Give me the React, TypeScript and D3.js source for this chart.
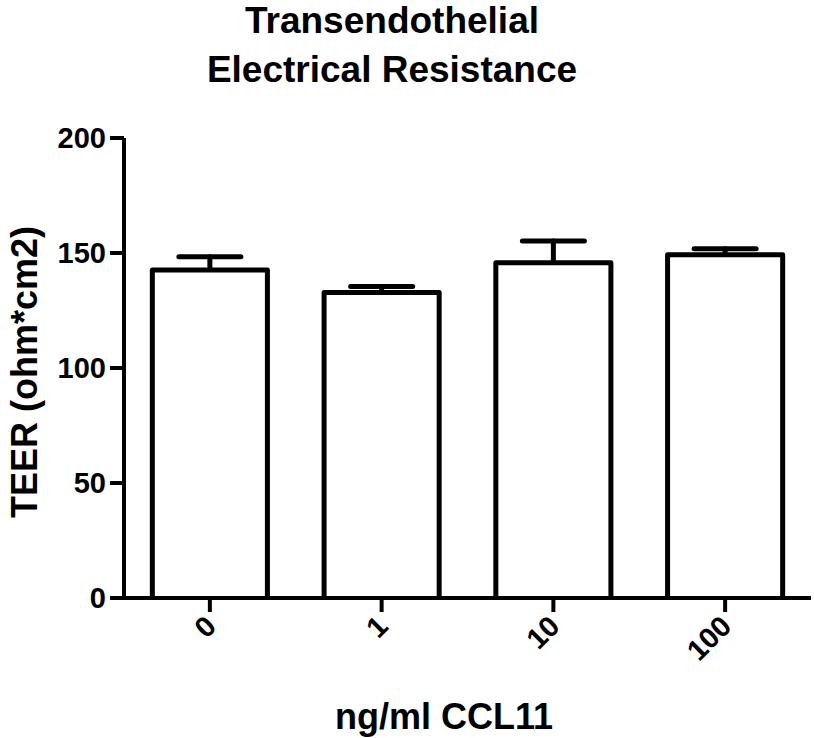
import React from 'react'
import { scaleBand, scaleLinear } from 'd3'

const categories = ['0', '1', '10', '100']
const means = [142.6, 132.8, 145.8, 149.2]
const errors = [5.8, 2.6, 9.4, 2.6]
const yTicks = [0, 50, 100, 150, 200]

const font = '"Liberation Sans", Arial, sans-serif'

function App() {
  const width = 814
  const height = 738
  const left = 124
  const bottom = 598
  const top = 138

  const x = scaleBand()
    .domain(categories)
    .range([left, 811])
    .paddingInner(0.33)
    .paddingOuter(0.165)

  const y = scaleLinear().domain([0, 200]).range([bottom, top])

  const capHalf = 31

  return (
    <svg
      width={width}
      height={height}
      style={{ position: 'absolute', left: 0, top: 0, background: '#fff' }}
      fontFamily={font}
      fontWeight="bold"
    >
      <text x={392} y={33} fontSize={37} textAnchor="middle">
        Transendothelial
      </text>
      <text x={392} y={82} fontSize={37} textAnchor="middle">
        Electrical Resistance
      </text>

      {/* bars + upper error bars */}
      {categories.map((c, i) => {
        const bx = x(c) as number
        const cx = bx + x.bandwidth() / 2
        return (
          <g key={c} stroke="#000" strokeWidth={5} fill="#fff">
            <line
              x1={cx}
              x2={cx}
              y1={y(means[i])}
              y2={y(means[i] + errors[i])}
              strokeLinecap="round"
            />
            <line
              x1={cx - capHalf}
              x2={cx + capHalf}
              y1={y(means[i] + errors[i])}
              y2={y(means[i] + errors[i])}
              strokeLinecap="round"
            />
            <path
              d={`M${bx},${bottom} V${y(means[i])} H${bx + x.bandwidth()} V${bottom}`}
              strokeLinejoin="round"
            />
          </g>
        )
      })}

      {/* y axis */}
      <line x1={left} x2={left} y1={top} y2={bottom + 2} stroke="#000" strokeWidth={4} />
      {yTicks.map((t) => (
        <g key={t}>
          <line x1={left - 14} x2={left} y1={y(t)} y2={y(t)} stroke="#000" strokeWidth={4} />
          <text x={left - 18} y={y(t) + 10} fontSize={29} textAnchor="end">
            {t}
          </text>
        </g>
      ))}

      {/* x axis */}
      <line x1={left - 14} x2={811} y1={bottom} y2={bottom} stroke="#000" strokeWidth={4} />
      {categories.map((c) => {
        const cx = (x(c) as number) + x.bandwidth() / 2
        return (
          <g key={c}>
            <line x1={cx} x2={cx} y1={bottom} y2={bottom + 14} stroke="#000" strokeWidth={4} />
            <text
              transform={`translate(${cx + 8},${bottom + 30}) rotate(-45)`}
              fontSize={29}
              textAnchor="end"
            >
              {c}
            </text>
          </g>
        )
      })}

      <text x={444} y={729} fontSize={36} textAnchor="middle">
        ng/ml CCL11
      </text>
      <text
        transform={`translate(37,372) rotate(-90)`}
        fontSize={36}
        textAnchor="middle"
      >
        TEER (ohm*cm2)
      </text>
    </svg>
  )
}

export default App
